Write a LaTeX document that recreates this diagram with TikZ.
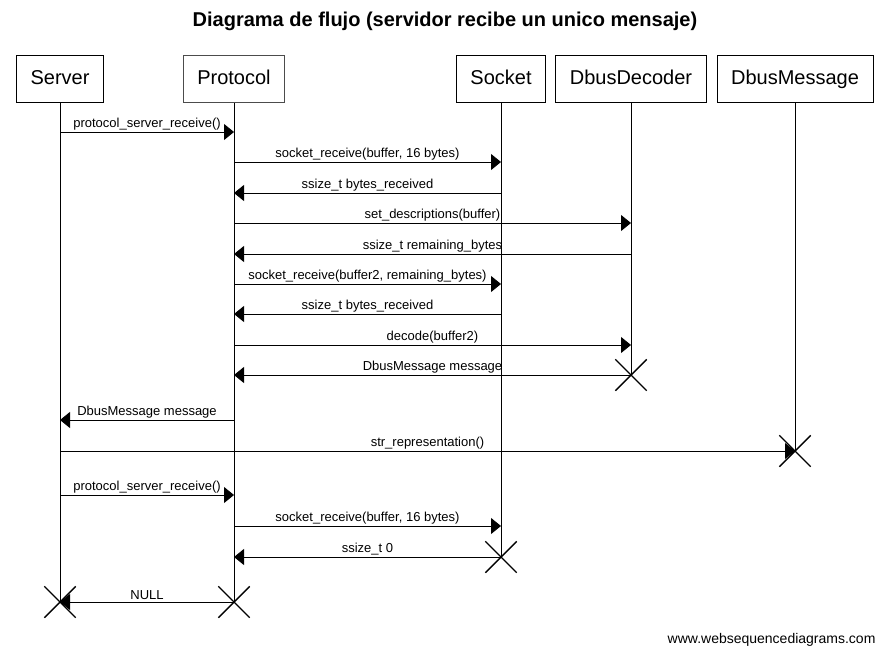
\documentclass[tikz,border=0pt]{standalone}
\usepackage{fontspec}
\setmainfont{Liberation Sans}
\usetikzlibrary{arrows.meta,shapes.misc}
\tikzset{
	actor/.style = {rectangle, draw, line width=0.8pt, inner xsep=14pt, minimum height=47pt, text height=14pt, text depth=4pt, font=\fontsize{20}{24}\selectfont}, % boxes at the top
	life/.style = {draw, line width=0.7pt}, % lifeline
	msg/.style = {line width=0.8pt, -{Triangle[length=10pt,width=16pt]}},
	lbl/.style = {above, inner sep=1.5pt, font=\fontsize{13}{15}\selectfont},
	killed/.style = {cross out, draw, line width=1.4pt, minimum size=30pt, inner sep=0pt}
}
\begin{document}
\begin{tikzpicture}[x=1pt,y=-1pt]
            \useasboundingbox (0,0) rectangle (887,657);
            \node[font=\bfseries\fontsize{20}{24}\selectfont] (title) at (445,21) {Diagrama de flujo (servidor recibe un unico mensaje)};
            % participants
            \node[actor] (srv) at (60,79) {Server};
            \node[actor,draw=black!70] (prt) at (234,79) {Protocol};
            \node[actor] (sck) at (501,79) {Socket};
            \node[actor] (dec) at (631,79) {DbusDecoder};
            \node[actor] (dmsg) at (795,79) {DbusMessage};
            % ends of the lifelines
            \coordinate (srvend) at (srv |- 0,602);
            \coordinate (prtend) at (prt |- 0,602);
            \coordinate (sckend) at (sck |- 0,557);
            \coordinate (decend) at (dec |- 0,375);
            \coordinate (dmsgend) at (dmsg |- 0,451);
            \draw[life] (srv) -- (srvend);
            \draw[life] (prt) -- (prtend);
            \draw[life] (sck) -- (sckend);
            \draw[life] (dec) -- (decend);
            \draw[life] (dmsg) -- (dmsgend);
            % messages
            \foreach \n/\a/\b/\y/\t in {
                1/srv/prt/132/{protocol\_server\_receive()},
                2/prt/sck/162/{socket\_receive(buffer, 16 bytes)},
                3/sck/prt/193/{ssize\_t bytes\_received},
                4/prt/dec/223/{set\_descriptions(buffer)},
                5/dec/prt/254/{ssize\_t remaining\_bytes},
                6/prt/sck/284/{socket\_receive(buffer2, remaining\_bytes)},
                7/sck/prt/314/{ssize\_t bytes\_received},
                8/prt/dec/345/{decode(buffer2)},
                9/dec/prt/375/{DbusMessage message},
                10/prt/srv/420/{DbusMessage message},
                11/srv/dmsg/451/{str\_representation()},
                12/srv/prt/495/{protocol\_server\_receive()},
                13/prt/sck/526/{socket\_receive(buffer, 16 bytes)},
                14/sck/prt/557/{ssize\_t 0},
                15/prt/srv/602/{NULL}}{
                \coordinate (m\n a) at (\a |- 0,\y);
                \coordinate (m\n b) at (\b |- 0,\y);
                \draw[msg] (m\n a) -- node[lbl]{\t} (m\n b);
            }
            % destroyed objects
            \node[killed] (xdec) at (decend) {};
            \node[killed] (xdmsg) at (dmsgend) {};
            \node[killed] (xsck) at (sckend) {};
            \node[killed] (xsrv) at (srvend) {};
            \node[killed] (xprt) at (prtend) {};
            \node[font=\fontsize{14}{16}\selectfont, anchor=east] (wsd) at (879,640) {www.websequencediagrams.com};
        \end{tikzpicture}
\end{document}
